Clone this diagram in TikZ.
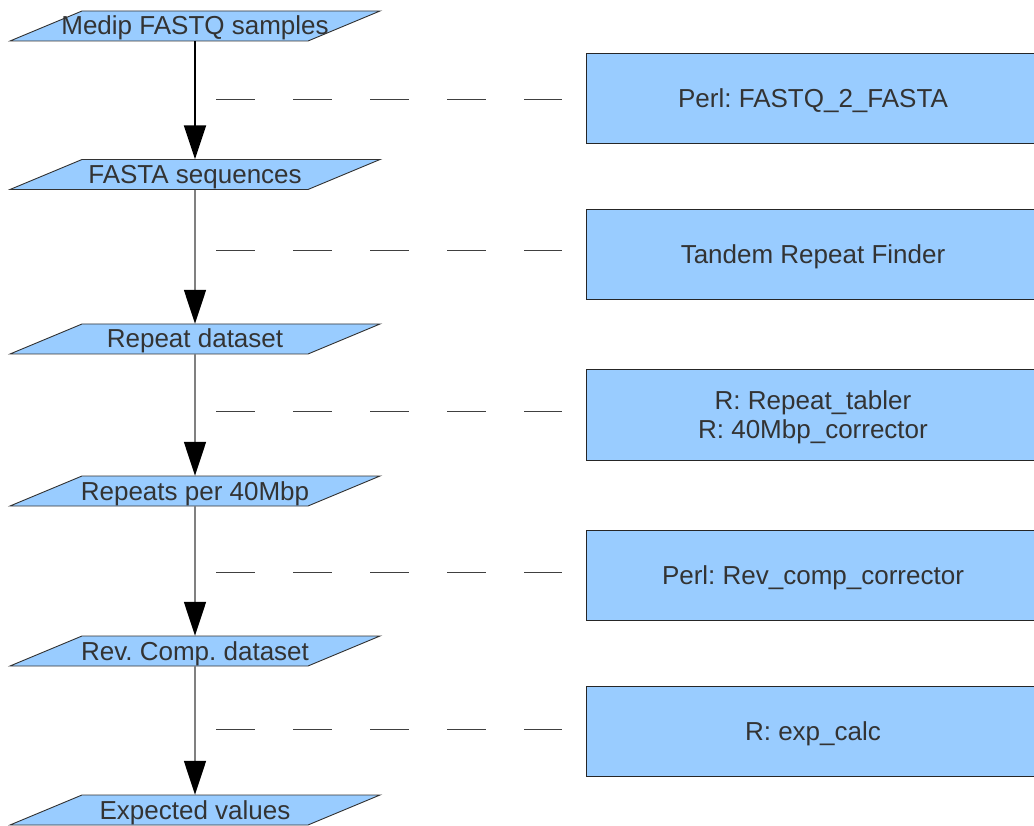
\documentclass[tikz,border=0pt]{standalone}
\usepackage{fontspec}
\setmainfont{Liberation Sans}
\usetikzlibrary{arrows.meta,backgrounds}
\definecolor{boxblue}{HTML}{99CCFF}
\definecolor{txt}{HTML}{333333}
\frenchspacing
\begin{document}
\begin{tikzpicture}[x=1pt,y=-1pt,
  lbl/.style={text=txt,font=\frenchspacing\fontsize{26}{29}\selectfont},
  para/.style={lbl,minimum width=226pt,minimum height=30pt,inner sep=0pt,text height=18pt,text depth=0pt},
  parashape/.style={fill=boxblue,draw=black!80,line width=0.9pt},
  tool/.style={lbl,draw=black!85,fill=boxblue,line width=1pt,minimum width=454pt,minimum height=90pt,inner sep=0pt,align=center},
  onel/.style={text height=18pt,text depth=0pt},
  flow/.style={line width=1.6pt,draw=black!50,-{Triangle[length=34pt,width=22pt,color=black]}},
  dashline/.style={line width=1pt,draw=black!75,dash pattern=on 38.5pt off 38.5pt,shorten >=24pt}]
\path[use as bounding box] (0,0) rectangle (1034,826);
\clip (0,0) rectangle (1034,826);

% data parallelograms
\node[para] (p1) at (195,26)  {Medip FASTQ samples};
\node[para] (p2) at (195,174.5) {FASTA sequences};
\node[para] (p3) at (195,339) {Repeat dataset};
\node[para] (p4) at (195,491) {Repeats per 40Mbp};
\node[para] (p5) at (195,651) {Rev. Comp. dataset};
\node[para] (p6) at (195,810) {Expected values};

\begin{scope}[on background layer]
\foreach \n in {p1,p2,p3,p4,p5,p6}
  \draw[parashape] ([shift={(-185,15)}]\n.center) -- ([shift={(113,15)}]\n.center)
     -- ([shift={(185,-15)}]\n.center) -- ([shift={(-113,-15)}]\n.center) -- cycle;
\end{scope}

% tool boxes
\node[tool,onel] (b1) at (813,99)  {Perl: FASTQ\_2\_FASTA};
\node[tool,onel] (b2) at (813,255) {Tandem Repeat Finder};
\node[tool,text height=47pt,text depth=0pt] (b3) at (813,415) {R: Repeat\_tabler\\R: 40Mbp\_corrector};
\node[tool,onel] (b4) at (813,575) {Perl: Rev\_comp\_corrector};
\node[tool,onel] (b5) at (813,731) {R: exp\_calc};

% flow arrows
\draw[flow,draw=black,line width=2pt] (p1.south) -- (p2.north);
\draw[flow] (p2.south) -- (p3.north);
\draw[flow] (p3.south) -- (p4.north);
\draw[flow] (p4.south) -- (p5.north);
\draw[flow] (p5.south) -- (p6.north);

% dashed associations
\coordinate (d1) at (216,100);
\coordinate (d2) at (216,251);
\coordinate (d3) at (216,411);
\coordinate (d4) at (216,572);
\coordinate (d5) at (216,729);
\draw[dashline] (d1) -- (d1 -| b1.west);
\draw[dashline] (d2) -- (d2 -| b2.west);
\draw[dashline] (d3) -- (d3 -| b3.west);
\draw[dashline] (d4) -- (d4 -| b4.west);
\draw[dashline] (d5) -- (d5 -| b5.west);
\end{tikzpicture}
\end{document}
